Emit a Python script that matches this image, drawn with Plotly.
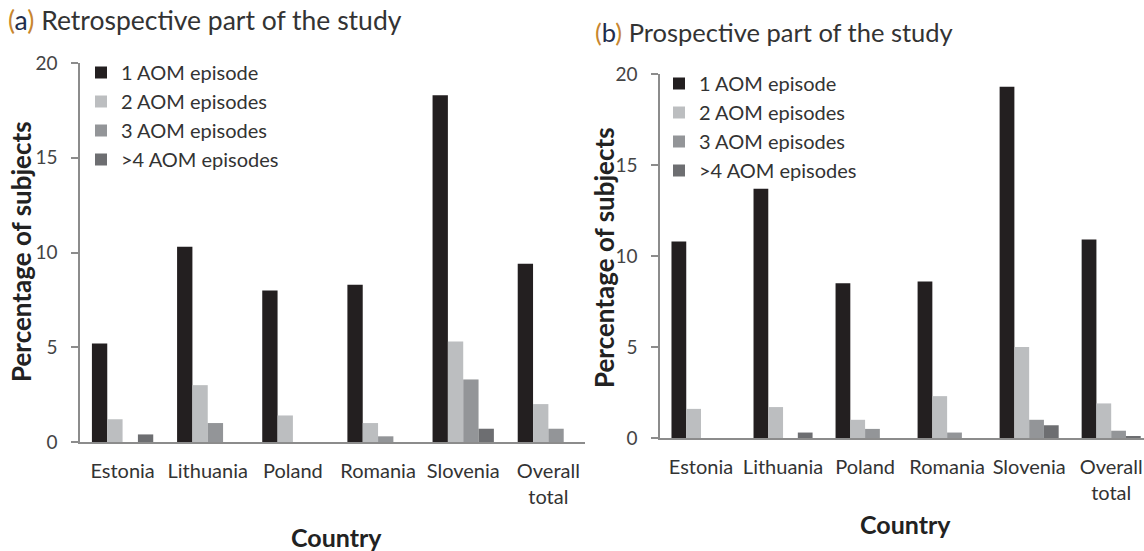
import plotly.graph_objects as go

W, H = 1144, 551

countries = ["Estonia", "Lithuania", "Poland", "Romania", "Slovenia", "Overall<br>total"]
series_names = ["1 AOM episode", "2 AOM episodes", "3 AOM episodes", ">4 AOM episodes"]
colors = ["#231f20", "#bcbec0", "#939598", "#6d6e71"]

retro_1 = [5.2, 10.3, 8.0, 8.3, 18.3, 9.4]
retro_2 = [1.2, 3.0, 1.4, 1.0, 5.3, 2.0]
retro_3 = [0.0, 1.0, 0.0, 0.3, 3.3, 0.7]
retro_4 = [0.4, 0.0, 0.0, 0.0, 0.7, 0.0]

prosp_1 = [10.8, 13.7, 8.5, 8.6, 19.3, 10.9]
prosp_2 = [1.6, 1.7, 1.0, 2.3, 5.0, 1.9]
prosp_3 = [0.0, 0.0, 0.5, 0.3, 1.0, 0.4]
prosp_4 = [0.0, 0.3, 0.0, 0.0, 0.7, 0.1]

y_ticks = [0, 5, 10, 15, 20]

retro = [retro_1, retro_2, retro_3, retro_4]
prosp = [prosp_1, prosp_2, prosp_3, prosp_4]

FONT = "Lato, 'Open Sans', sans-serif"
TXT = "#333333"
AX = "#8c8c8c"

fig = go.Figure()
for i, (name, vals) in enumerate(zip(series_names, retro)):
    fig.add_trace(go.Bar(x=countries, y=vals, name=name, marker=dict(color=colors[i], line=dict(width=0)),
                         xaxis="x", yaxis="y", legend="legend", legendgroup="a%d" % i))
for i, (name, vals) in enumerate(zip(series_names, prosp)):
    fig.add_trace(go.Bar(x=countries, y=vals, name=name, marker=dict(color=colors[i], line=dict(width=0)),
                         xaxis="x2", yaxis="y2", legend="legend2", legendgroup="b%d" % i))

def px_x(p):
    return p / W

def px_y(p):
    return 1 - p / H

yaxis_common = dict(range=[0, 20], tickvals=y_ticks, showgrid=False, zeroline=False, automargin=False,
                    showline=True, linecolor=AX, linewidth=1.5, ticks="outside", ticklen=7,
                    tickcolor=AX, tickwidth=1.5, ticklabelstandoff=10,
                    tickfont=dict(family=FONT, size=19, color="#444444"))
xaxis_common = dict(type="category", showgrid=False, zeroline=False, showline=True, automargin=False,
                    linecolor=AX, linewidth=1.5, ticks="", ticklabelstandoff=10,
                    tickfont=dict(family=FONT, size=20, color="#333333"))

legend_common = dict(font=dict(family=FONT, size=20, color=TXT), bgcolor="rgba(0,0,0,0)",
                     tracegroupgap=0, itemwidth=30, xanchor="left", yanchor="top",
                     traceorder="normal")

fig.update_layout(
    width=W, height=H, margin=dict(l=0, r=0, t=0, b=0, autoexpand=False),
    paper_bgcolor="white", plot_bgcolor="white",
    barmode="group", bargap=0.28, bargroupgap=0,
    xaxis=dict(domain=[px_x(80), px_x(585)], range=[-0.5, 5.43], anchor="y", **xaxis_common),
    yaxis=dict(domain=[px_y(442), px_y(63)], anchor="x", **yaxis_common),
    xaxis2=dict(domain=[px_x(660), 1.0], range=[-0.5, 5.4], anchor="y2", **xaxis_common),
    yaxis2=dict(domain=[px_y(438), px_y(74)], anchor="x2", **yaxis_common),
    legend=dict(x=px_x(81), y=px_y(53), **legend_common),
    legend2=dict(x=px_x(659), y=px_y(64), **legend_common),
    showlegend=True,
)

ann = []
ann.append(dict(text="<span style='color:#c8862e'>(</span><span style='color:#1f2d4d'>a</span><span style='color:#c8862e'>)</span> Retrospective part of the study",
                x=px_x(6), y=px_y(20), xref="paper", yref="paper", xanchor="left", yanchor="middle",
                showarrow=False, font=dict(family=FONT, size=26.5, color=TXT)))
ann.append(dict(text="<span style='color:#c8862e'>(</span><span style='color:#1f2d4d'>b</span><span style='color:#c8862e'>)</span> Prospective part of the study",
                x=px_x(593), y=px_y(32), xref="paper", yref="paper", xanchor="left", yanchor="middle",
                showarrow=False, font=dict(family=FONT, size=25.5, color=TXT)))
ann.append(dict(text="<b>Percentage of subjects</b>", x=px_x(21), y=px_y(252), xref="paper", yref="paper",
                textangle=-90, showarrow=False, xanchor="center", yanchor="middle",
                font=dict(family=FONT, size=26, color="#222222")))
ann.append(dict(text="<b>Percentage of subjects</b>", x=px_x(604), y=px_y(258), xref="paper", yref="paper",
                textangle=-90, showarrow=False, xanchor="center", yanchor="middle",
                font=dict(family=FONT, size=26, color="#222222")))
ann.append(dict(text="<b>Country</b>", x=px_x(336), y=px_y(537), xref="paper", yref="paper",
                showarrow=False, xanchor="center", yanchor="middle",
                font=dict(family=FONT, size=25, color="#222222")))
ann.append(dict(text="<b>Country</b>", x=px_x(905), y=px_y(524), xref="paper", yref="paper",
                showarrow=False, xanchor="center", yanchor="middle",
                font=dict(family=FONT, size=25, color="#222222")))
fig.update_layout(annotations=ann)

fig.write_html("out.html", config={"displayModeBar": False},
               post_script="document.body.style.margin='0';document.body.style.overflow='hidden';")
